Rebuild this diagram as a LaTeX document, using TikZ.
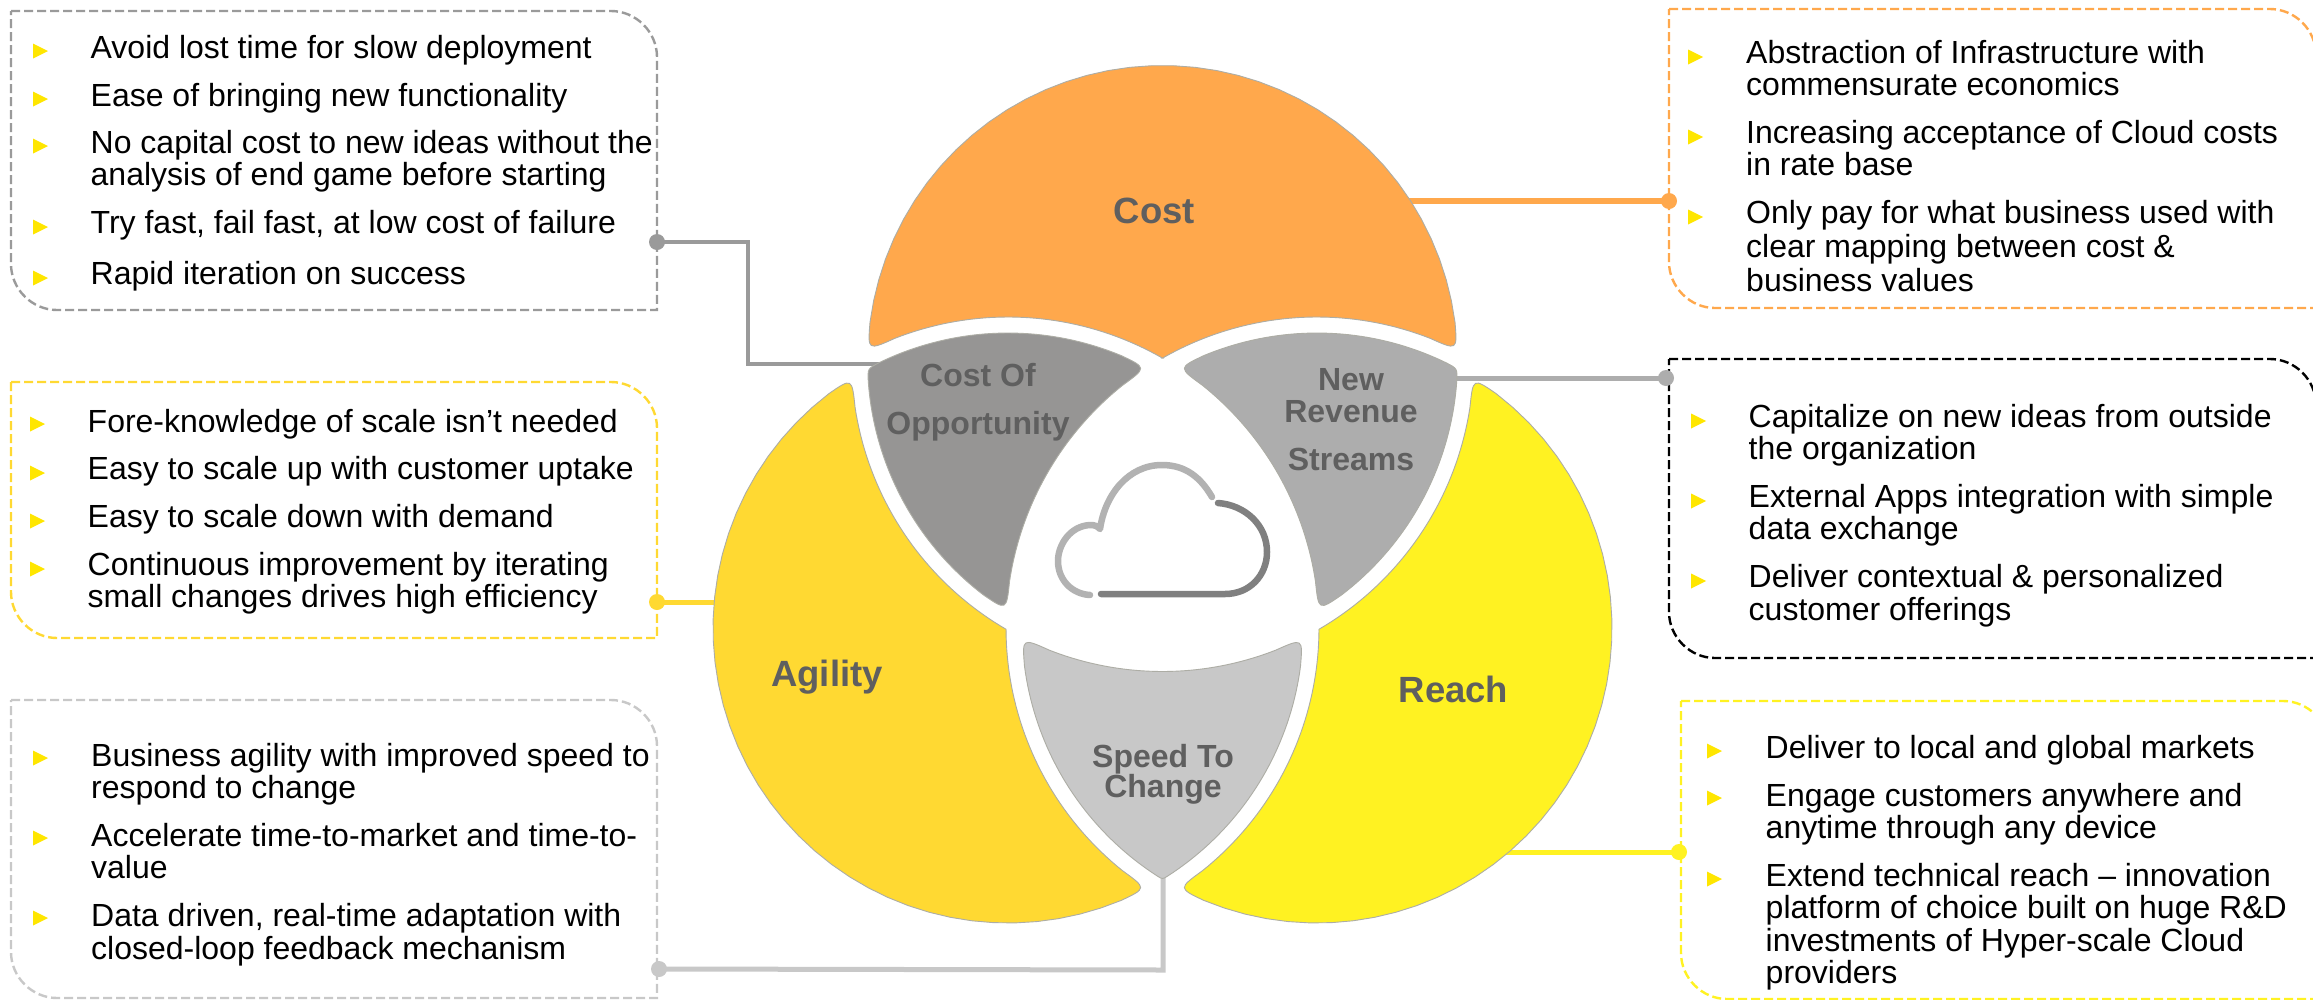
\documentclass[tikz,border=0pt]{standalone}
\usepackage{fontspec}
\setmainfont{Liberation Sans}
\definecolor{cCost}{HTML}{FFA84C}
\definecolor{cAgil}{HTML}{FFD932}
\definecolor{cReach}{HTML}{FFF222}
\definecolor{cOpp}{HTML}{969594}
\definecolor{cRev}{HTML}{ADADAD}
\definecolor{cSpeed}{HTML}{C8C8C8}
\definecolor{cEdge}{HTML}{ADADA5}
\definecolor{cLabel}{HTML}{5F5F5F}
\definecolor{cBullet}{HTML}{FFE600}
\definecolor{cBox}{HTML}{9A9A9A}
\definecolor{cIconL}{HTML}{B2B2B2}
\definecolor{cIconD}{HTML}{808080}
\def\Ax{1162.5}\def\Ay{360.5}
\def\Bx{1008}\def\By{628}
\def\Cx{1317}\def\Cy{628}
\def\rr{295}\def\RR{311}
\def\tr{5.5}\def\trs{2.5}
\newcommand\Seg[5]{--plot[variable=\t,samples=40,domain=#4:#5] ({#1+#3*cos(\t)},{#2+#3*sin(\t)})}
\newcommand\bigpetal[8]{%
  \pgfmathsetmacro\angA{#8+91.93+\tr}\pgfmathsetmacro\angB{#8+268.07-\tr}%
  \pgfmathsetmacro\angC{#8+268.07}\pgfmathsetmacro\angD{#8+120+86.82-\tr}%
  \pgfmathsetmacro\angE{#8+120+30.21}\pgfmathsetmacro\angF{#8+240-30.21}%
  \pgfmathsetmacro\angG{#8+240-86.82+\tr}\pgfmathsetmacro\angH{#8+91.93}%
  \coordinate (s1) at ({#2+\rr*cos(\angA)},{#3+\rr*sin(\angA)});
  \coordinate (v1) at ({#2+\rr*cos(\angC)},{#3+\rr*sin(\angC)});
  \coordinate (s2) at ({#4+\RR*cos(\angD)},{#5+\RR*sin(\angD)});
  \coordinate (v2) at ({#2+\rr*cos(\angH)},{#3+\rr*sin(\angH)});
  \path[#1] (s1) \Seg{#2}{#3}{\rr}{\angA}{\angB} .. controls (v1) .. (s2)
    \Seg{#4}{#5}{\RR}{\angD}{\angE} \Seg{#6}{#7}{\RR}{\angF}{\angG}
    .. controls (v2) .. (s1) -- cycle;}
\newcommand\smallpetal[8]{%
  \pgfmathsetmacro\angA{#8+26.82-\tr}\pgfmathsetmacro\angB{#8-26.82+\tr}%
  \pgfmathsetmacro\angC{#8-26.82}\pgfmathsetmacro\angD{#8+240+31.93+\tr}%
  \pgfmathsetmacro\angE{#8+240+88.42-\trs}\pgfmathsetmacro\angF{#8+240+88.42}%
  \pgfmathsetmacro\angG{#8+120-88.42+\trs}\pgfmathsetmacro\angH{#8+120-31.93-\tr}%
  \pgfmathsetmacro\angI{#8+120-31.93}\pgfmathsetmacro\angJ{#8+26.82}%
  \coordinate (s1) at ({#2+\RR*cos(\angA)},{#3+\RR*sin(\angA)});
  \coordinate (v1) at ({#2+\RR*cos(\angC)},{#3+\RR*sin(\angC)});
  \coordinate (s2) at ({#4+\rr*cos(\angD)},{#5+\rr*sin(\angD)});
  \coordinate (v2) at ({#4+\rr*cos(\angF)},{#5+\rr*sin(\angF)});
  \coordinate (s3) at ({#6+\rr*cos(\angG)},{#7+\rr*sin(\angG)});
  \coordinate (v3) at ({#6+\rr*cos(\angI)},{#7+\rr*sin(\angI)});
  \path[#1] (s1) \Seg{#2}{#3}{\RR}{\angA}{\angB} .. controls (v1) .. (s2)
    \Seg{#4}{#5}{\rr}{\angD}{\angE} .. controls (v2) .. (s3)
    \Seg{#6}{#7}{\rr}{\angG}{\angH} .. controls (v3) .. (s1) -- cycle;}
% dashed box: square at top-left and bottom-right, round at the other two
\newcommand\listbox[5]{%
  \path[boxline,draw=#1] (#2,#3) -- ({#4-46},#3) .. controls ({#4-21},#3) and (#4,{#3+21}) .. (#4,{#3+46})
    -- (#4,#5) -- ({#2+46},#5) .. controls ({#2+21},#5) and (#2,{#5-21}) .. (#2,{#5-46}) -- cycle;}
% bullet triangle + text: name, bullet x, bullet centre y, text x, first baseline, text
\newcommand\li[7][32]{%
  \fill[cBullet] (#3,{#4-7.5}) -- ({#3+15},#4) -- (#3,{#4+7.5}) -- cycle;
  \node[itemtext,font=\fontsize{32}{#1}\selectfont] (#2) at (#5,{#6-30}) {\rule{0pt}{30pt}#7};}
\tikzset{
  x=1pt,y=-1pt,
  boxline/.style={line width=2.4pt,dash pattern=on 9pt off 4pt},
  itemtext/.style={anchor=north west,inner sep=0pt,align=left,text=black},
  petal/.style={fill=#1,draw=cEdge,line width=0.9pt},
  biglabel/.style={anchor=base,inner sep=0pt,text=cLabel,font=\fontsize{36.5}{40}\selectfont\bfseries},
  smalllabel/.style={anchor=north,inner sep=0pt,align=center,text=cLabel,font=\fontsize{32}{32}\selectfont\bfseries},
  linkdot/.style={circle,fill=#1,inner sep=0pt,minimum size=16pt},
  link/.style={draw=#1,line width=5pt},
  iconline/.style={line width=6.5pt,line cap=round,line join=round,draw=#1}
}
\begin{document}
\begin{tikzpicture}
\useasboundingbox (0,0) rectangle (2313,999);
\fill[white] (0,0) rectangle (2313,999);

% dashed boxes
\listbox{cBox}{11}{11}{657}{310}
\listbox{cAgil}{11}{382}{657}{638}
\listbox{cSpeed}{11}{700}{657}{998}
\listbox{cCost}{1669}{9}{2316}{308}
\listbox{black}{1669}{359}{2316}{658}
\listbox{cReach}{1681}{701}{2329}{999}

% connectors
\node[linkdot=cBox] (dOpp) at (657,242) {};
\node[linkdot=cAgil] (dAgil) at (657,602) {};
\node[linkdot=cSpeed] (dSpeed) at (659,969) {};
\node[linkdot=cCost] (dCost) at (1669,201) {};
\node[linkdot=cRev] (dRev) at (1666,378) {};
\node[linkdot=cReach] (dReach) at (1679,852) {};
\coordinate (oppA) at (748,242);
\coordinate (oppB) at (748,364);
\coordinate (oppEnd) at (880,364);
\coordinate (agilEnd) at (730,602);
\coordinate (speedA) at (1163,970);
\coordinate (speedEnd) at (1163,870);
\coordinate (costEnd) at (1400,201);
\coordinate (revEnd) at (1440,378);
\coordinate (reachEnd) at (1500,852);
\draw[link=cBox,line width=4pt] (dOpp.center) -- (oppA) -- (oppB) -- (oppEnd);
\draw[link=cAgil] (dAgil.center) -- (agilEnd);
\draw[link=cSpeed] (dSpeed.center) -- (speedA) -- (speedEnd);
\draw[link=cCost,line width=6pt] (dCost.center) -- (costEnd);
\draw[link=cRev] (dRev.center) -- (revEnd);
\draw[link=cReach] (dReach.center) -- (reachEnd);

% petals
\bigpetal{petal=cCost}{\Ax}{\Ay}{\Cx}{\Cy}{\Bx}{\By}{90}
\bigpetal{petal=cReach}{\Cx}{\Cy}{\Bx}{\By}{\Ax}{\Ay}{210}
\bigpetal{petal=cAgil}{\Bx}{\By}{\Ax}{\Ay}{\Cx}{\Cy}{330}
\def\trs{1.2}
\smallpetal{petal=cSpeed}{\Ax}{\Ay}{\Bx}{\By}{\Cx}{\Cy}{90}
\def\trs{2.5}
\smallpetal{petal=cOpp}{\Cx}{\Cy}{\Ax}{\Ay}{\Bx}{\By}{210}
\smallpetal{petal=cRev}{\Bx}{\By}{\Cx}{\Cy}{\Ax}{\Ay}{330}

% cloud icon
\draw[iconline=cIconL] (1212,497) .. controls (1201,478) and (1186,465) .. (1162,465)
   .. controls (1128,465) and (1105,495) .. (1100,529) .. controls (1097,526) and (1095,525) .. (1090,525)
   .. controls (1070,526) and (1058,545) .. (1058,561) .. controls (1058,580) and (1072,594) .. (1090,595);
\draw[iconline=cIconD] (1218,503) .. controls (1245,505) and (1267,525) .. (1267,552)
   .. controls (1267,575) and (1250,594) .. (1225,594) -- (1101,594);

% petal labels
\node[biglabel] (lCost) at (1154.5,223) {Cost};
\node[biglabel] (lAgil) at (827,686) {Agility};
\node[biglabel] (lReach) at (1453.5,702) {Reach};
\node[smalllabel] (lOpp) at (978,360) {\rule{0pt}{26pt}Cost Of\\[16pt]Opportunity};
\node[smalllabel] (lRev) at (1351,364) {\rule{0pt}{26pt}New\\Revenue\\[16pt]Streams};
\node[smalllabel,font=\fontsize{32}{30}\selectfont\bfseries] (lSpeed) at (1163,741) {\rule{0pt}{26pt}Speed To\\Change};

% lists
\li{a1}{33}{51}{90.5}{58}{Avoid lost time for slow deployment}
\li{a2}{33}{99}{90.5}{106}{Ease of bringing new functionality}
\li{a3}{33}{146}{90.5}{153}{No capital cost to new ideas without the\\analysis of end game before starting}
\li{a4}{33}{227}{90.5}{233}{Try fast, fail fast, at low cost of failure}
\li{a5}{33}{278}{90.5}{284}{Rapid iteration on success}

\li{b1}{30}{424}{87.5}{432}{Fore-knowledge of scale isn’t needed}
\li{b2}{30}{473}{87.5}{479}{Easy to scale up with customer uptake}
\li{b3}{30}{521}{87.5}{527}{Easy to scale down with demand}
\li{b4}{30}{569}{87.5}{575}{Continuous improvement by iterating\\small changes drives high efficiency}

\li{c1}{33}{758}{91}{766}{Business agility with improved speed to\\respond to change}
\li{c2}{33}{838}{91}{846}{Accelerate time-to-market and time-to-\\value}
\li[33]{c3}{33}{918}{91}{926}{Data driven, real-time adaptation with\\closed-loop feedback mechanism}

\li{d1}{1688}{57}{1746}{63}{Abstraction of Infrastructure with\\commensurate economics}
\li{d2}{1688}{137}{1746}{143}{Increasing acceptance of Cloud costs\\in rate base}
\li[34]{d3}{1688}{217}{1746}{223}{Only pay for what business used with\\clear mapping between cost \&\\business values}

\li{e1}{1691}{421}{1748.5}{427}{Capitalize on new ideas from outside\\the organization}
\li{e2}{1691}{501}{1748.5}{507}{External Apps integration with simple\\data exchange}
\li[33]{e3}{1691}{581}{1748.5}{587}{Deliver contextual \& personalized\\customer offerings}

\li{f1}{1707}{751}{1765.5}{758}{Deliver to local and global markets}
\li{f2}{1707}{798}{1765.5}{806}{Engage customers anywhere and\\anytime through any device}
\li[32.4]{f3}{1707}{879}{1765.5}{886}{Extend technical reach – innovation\\platform of choice built on huge R\&D\\investments of Hyper-scale Cloud\\providers}
\end{tikzpicture}
\end{document}
